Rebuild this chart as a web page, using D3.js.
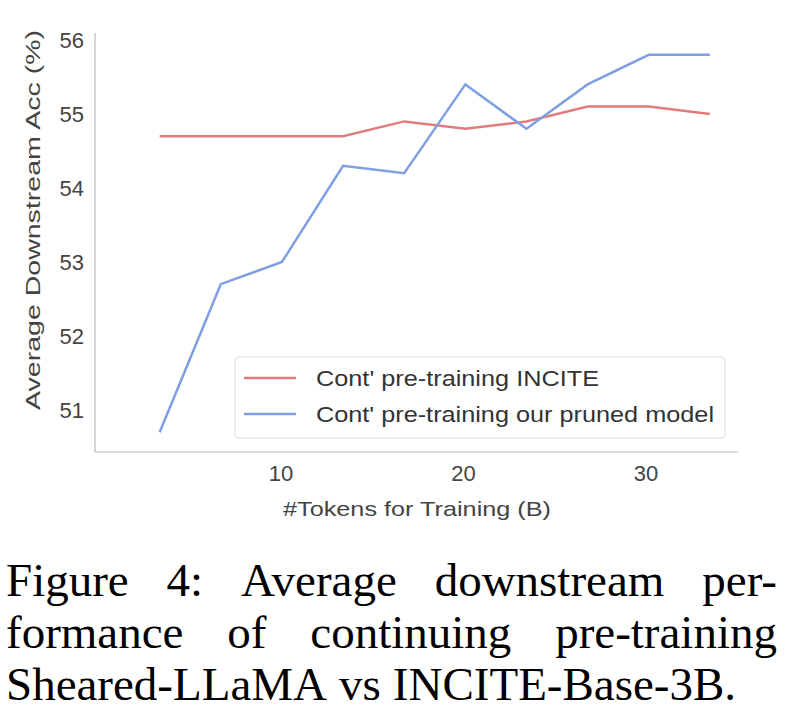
<!DOCTYPE html>
<html><head><meta charset="utf-8">
<script src="https://cdn.jsdelivr.net/npm/d3@7"></script>
<style>body{margin:0;background:#fff}</style>
</head><body>
<svg width="811" height="718"></svg>
<script>
// tokens (B) and accuracies
var tokens = [3.35, 6.7, 10.05, 13.4, 16.75, 20.1, 23.45, 26.8, 30.15, 33.5];
var inciteAcc = [54.7, 54.7, 54.7, 54.7, 54.9, 54.8, 54.9, 55.1, 55.1, 55.0];
var prunedAcc = [50.7, 52.7, 53.0, 54.3, 54.2, 55.4, 54.8, 55.4, 55.8, 55.8];
var xTicks = [10, 20, 30];
var yTicks = [51, 52, 53, 54, 55, 56];
var seriesNames = ["Cont' pre-training INCITE", "Cont' pre-training our pruned model"];
var colors = ["#e17c7c", "#7f9fe3"];
var caption = ["Figure 4:  Average downstream per-", "formance of continuing pre-training", "Sheared-LLaMA vs INCITE-Base-3B."];

var svg = d3.select("svg");
var x = d3.scaleLinear().domain([10, 30]).range([281, 646]);
var y = d3.scaleLinear().domain([51, 56]).range([410, 40]);
var font = "Liberation Sans, Arial, sans-serif";

// axis spines
svg.append("line").attr("x1", 95).attr("x2", 95).attr("y1", 33).attr("y2", 452).attr("stroke", "#bbb").attr("stroke-width", 1.2);
svg.append("line").attr("x1", 95).attr("x2", 738).attr("y1", 452).attr("y2", 452).attr("stroke", "#bbb").attr("stroke-width", 1.2);

svg.selectAll(".yt").data(yTicks).enter().append("text")
  .attr("x", 84).attr("y", function(d) { return y(d) + 8; })
  .attr("text-anchor", "end").attr("font-family", font).attr("font-size", 22).attr("fill", "#444")
  .text(function(d) { return d; });
svg.selectAll(".xt").data(xTicks).enter().append("text")
  .attr("x", function(d) { return x(d); }).attr("y", 481)
  .attr("text-anchor", "middle").attr("font-family", font).attr("font-size", 22).attr("fill", "#444")
  .text(function(d) { return d; });

svg.append("text").attr("transform", "translate(40,410) rotate(-90)")
  .attr("font-family", font).attr("font-size", 21).attr("fill", "#444")
  .attr("textLength", 380).attr("lengthAdjust", "spacingAndGlyphs")
  .text("Average Downstream Acc (%)");
svg.append("text").attr("x", 283).attr("y", 516)
  .attr("font-family", font).attr("font-size", 21).attr("fill", "#444")
  .attr("textLength", 268).attr("lengthAdjust", "spacingAndGlyphs")
  .text("#Tokens for Training (B)");

var line = d3.line().x(function(d, i) { return x(tokens[i]); }).y(function(d) { return y(d); });
[inciteAcc, prunedAcc].forEach(function(s, i) {
  svg.append("path").attr("d", line(s)).attr("fill", "none")
    .attr("stroke", colors[i]).attr("stroke-width", 2.5);
});

// legend
var legendLen = [283, 398];
svg.append("rect").attr("x", 235).attr("y", 357).attr("width", 490).attr("height", 81).attr("rx", 4)
  .attr("fill", "#fff").attr("stroke", "#ddd");
seriesNames.forEach(function(n, i) {
  var ly = 378 + i * 36;
  svg.append("line").attr("x1", 244).attr("x2", 296).attr("y1", ly).attr("y2", ly)
    .attr("stroke", colors[i]).attr("stroke-width", 2.5);
  svg.append("text").attr("x", 316).attr("y", ly + 8).attr("font-family", font).attr("font-size", 22)
    .attr("fill", "#333").attr("textLength", legendLen[i]).attr("lengthAdjust", "spacingAndGlyphs").text(n);
});

// caption, justified by spreading words
caption.forEach(function(t, i) {
  var words = t.split(/\s+/);
  var ly = 596 + i * 52;
  var g = svg.append("g");
  var nodes = words.map(function(w) {
    return g.append("text").attr("y", ly)
      .attr("font-family", "Liberation Serif, Times New Roman, serif").attr("font-size", 47).attr("fill", "#000")
      .text(w);
  });
  var widths = nodes.map(function(n) { return n.node().getComputedTextLength(); });
  var total = d3.sum(widths);
  var gap = i < 2 ? (771 - total) / (words.length - 1) : 12;
  var cx = 6;
  nodes.forEach(function(n, k) { n.attr("x", cx); cx += widths[k] + gap; });
});
</script>
</body></html>
